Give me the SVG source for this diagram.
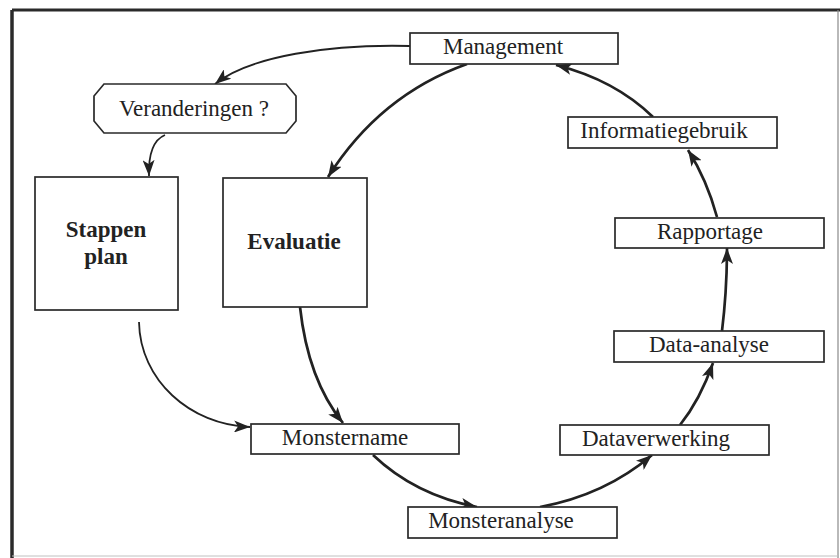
<svg xmlns="http://www.w3.org/2000/svg" width="840" height="558" viewBox="0 0 840 558">
  <style>
    .box { fill: #ffffff; stroke: #2a2a2a; stroke-width: 1.7; }
    .lbl { font-family: "Liberation Serif", "Times New Roman", serif; font-size: 23px; fill: #222222; text-anchor: middle; }
    .bold { font-weight: bold; }
    .link { fill: none; stroke: #222222; stroke-width: 2.7; marker-end: url(#head); }
    .thin { stroke-width: 1.8; }
  </style>
  <defs>
    <marker id="head" markerUnits="userSpaceOnUse" markerWidth="17" markerHeight="12" refX="16" refY="6" orient="auto">
      <path d="M0,0 L16,6 L0,12 L4,6 Z" fill="#222222"/>
    </marker>
  </defs>

  <rect x="0" y="0" width="840" height="558" fill="#ffffff"/>

  <!-- outer frame -->
  <g id="frame">
    <line x1="12" y1="10" x2="840" y2="10" stroke="#2a2a2a" stroke-width="3"/>
    <line x1="12" y1="10" x2="12" y2="558" stroke="#2a2a2a" stroke-width="3.5"/>
    <line x1="838" y1="10" x2="838" y2="558" stroke="#8a8a8a" stroke-width="1.2"/>
    <line x1="12" y1="556" x2="838" y2="556" stroke="#c0c0c0" stroke-width="1"/>
  </g>

  <!-- connectors -->
  <g id="connectors">
    <path class="link thin" d="M410,46 C330,44 250,56 215,84"/>
    <path class="link thin" d="M165,135 Q148,142 149,176"/>
    <path class="link" d="M467,64 Q380,95 328,177"/>
    <path class="link thin" d="M139,322 C140,380 190,425 250,427"/>
    <path class="link" d="M300,307 Q308,380 343,423"/>
    <path class="link" d="M373,455 Q415,495 477,507"/>
    <path class="link" d="M540,507 Q605,495 652,455"/>
    <path class="link" d="M680,425 Q700,400 713,363"/>
    <path class="link" d="M722,331 Q727,290 727,248"/>
    <path class="link" d="M717,217 Q707,180 688,150"/>
    <path class="link" d="M653,117 Q615,80 556,65"/>
  </g>

  <g id="management">
    <rect class="box" x="410" y="33" width="208" height="31"/>
    <text class="lbl" x="503" y="54">Management</text>
  </g>

  <g id="veranderingen">
    <polygon class="box" points="104,84 286,84 296,96 296,121 286,133 104,133 94,121 94,96"/>
    <text class="lbl" x="194" y="116">Veranderingen ?</text>
  </g>

  <g id="stappenplan">
    <rect class="box" x="35" y="177" width="143" height="133"/>
    <text class="lbl bold" x="106" y="237">Stappen</text>
    <text class="lbl bold" x="106" y="264">plan</text>
  </g>

  <g id="evaluatie">
    <rect class="box" x="223" y="178" width="144" height="129"/>
    <text class="lbl bold" x="294" y="249">Evaluatie</text>
  </g>

  <g id="informatiegebruik">
    <rect class="box" x="568" y="117" width="209" height="31"/>
    <text class="lbl" x="664" y="138">Informatiegebruik</text>
  </g>

  <g id="rapportage">
    <rect class="box" x="615" y="218" width="209" height="30"/>
    <text class="lbl" x="710" y="239">Rapportage</text>
  </g>

  <g id="data-analyse">
    <rect class="box" x="614" y="331" width="210" height="31"/>
    <text class="lbl" x="709" y="352">Data-analyse</text>
  </g>

  <g id="dataverwerking">
    <rect class="box" x="560" y="425" width="209" height="30"/>
    <text class="lbl" x="656" y="446">Dataverwerking</text>
  </g>

  <g id="monsteranalyse">
    <rect class="box" x="408" y="507" width="209" height="31"/>
    <text class="lbl" x="501" y="528">Monsteranalyse</text>
  </g>

  <g id="monstername">
    <rect class="box" x="251" y="424" width="208" height="30"/>
    <text class="lbl" x="345" y="445">Monstername</text>
  </g>
</svg>
